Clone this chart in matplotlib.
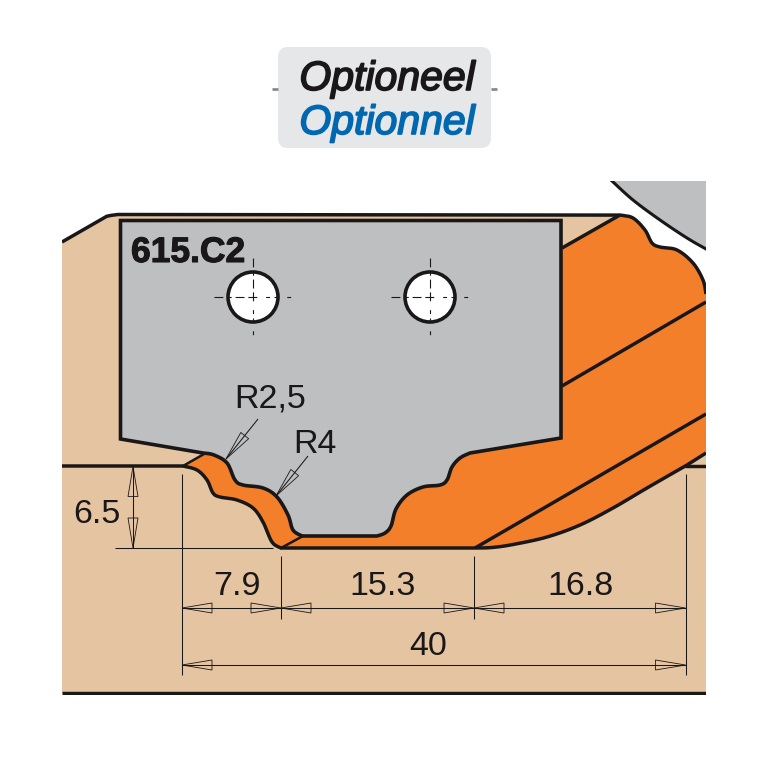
#!/usr/bin/env python
# coding: utf-8

# Profile drawing of knife set 615.C2, everything in reference pixel coordinates

import numpy as np
import matplotlib
matplotlib.use('Agg')
import matplotlib.pyplot as plt
from matplotlib.patches import Polygon, Circle, FancyBboxPatch, Rectangle
import matplotlib.patheffects as pe

# Text
part_label = '615.C2'
badge_labels = ['Optioneel', 'Optionnel']
radius_labels = ['R2,5', 'R4']
width_labels = ['7.9', '15.3', '16.8']
depth_label = '6.5'
total_label = '40'

# Dimension positions along the drawing
width_stops = [182, 281, 474, 685.5]
width_row_y = 608
total_row_y = 665
depth_top, depth_bottom = 466.5, 548
depth_x = 133

# Colours
wood = '#E5C4A1'
orange = '#F47F2A'
steel = '#BEBFC1'
ink = '#1A1718'
blue = '#0067B1'
badge = '#E6E7E8'

# Outlines, (x, y) in pixels
cutter_right_profile = [(470, 453), (460, 458), (452, 467), (447, 480), (440, 485), (423, 487),
                        (407, 495), (396, 509), (391, 526), (385, 533), (377, 536)]
cutter_left_profile = [(302, 536), (293, 530), (288, 515), (277, 497), (263, 488), (243, 485),
                       (235, 480), (227, 463), (214, 455), (203, 453)]
body_left_profile = [(183, 466), (197, 470), (207, 480), (213, 493), (220, 497), (237, 500),
                     (253, 508), (263, 522), (272, 542), (281, 548)]
body_right_curve = [(475, 548), (492, 547.5), (513, 544.5), (547, 537), (580, 525), (613, 508),
                    (647, 488), (687, 465)]
body_top_curve = [(620, 215), (633, 218), (645, 230), (652, 243), (660, 247), (677, 250),
                  (693, 263), (703, 280), (706, 294)]
disc_curve = [(612, 181), (633, 200), (660, 220), (687, 238), (706, 249)]
chamfer = [(62, 242), (102, 219), (108, 216), (118, 214.5)]
hole_x = [253, 430]
hole_y = 297


def curve(pts, n=14):
    # Catmull-Rom through the outline points, only to round the profile off
    p = np.array([pts[0]] + list(pts) + [pts[-1]], dtype=float)
    out = []
    for i in range(1, len(p) - 2):
        for t in np.linspace(0, 1, n, endpoint=False):
            out.append(0.5 * (2 * p[i] + (p[i + 1] - p[i - 1]) * t
                              + (2 * p[i - 1] - 5 * p[i] + 4 * p[i + 1] - p[i + 2]) * t**2
                              + (3 * p[i] - p[i - 1] - 3 * p[i + 1] + p[i + 2]) * t**3))
    out.append(p[-1])
    return np.array(out)


def arrow(ax, tip, toward, length=30, half=5):
    tip = np.array(tip, dtype=float)
    d = np.array(toward, dtype=float) - tip
    d = d / np.hypot(*d)
    n = np.array([-d[1], d[0]])
    base = tip + d * length
    ax.add_patch(Polygon([tip, base + n * half, base - n * half], closed=True, fill=False,
                         ec=ink, lw=0.6, zorder=6))


def thin(ax, xs, ys):
    ax.plot(xs, ys, color=ink, lw=0.75, zorder=6, solid_capstyle='butt')


fig = plt.figure(figsize=(7.68, 7.68), dpi=100)
ax = fig.add_axes([0, 0, 1, 1])
ax.set_xlim(0, 768)
ax.set_ylim(768, 0)
ax.axis('off')

top_curve = curve(body_top_curve)
right_curve = curve(body_right_curve)
left_curve = curve(body_left_profile)
chamfer_line = curve(chamfer, 6)

# Wood block
wood_outline = np.vstack([chamfer_line, top_curve, [(706, 693), (62, 693)]])
ax.add_patch(Polygon(wood_outline, closed=True, fc=wood, ec='none', zorder=1))

# Orange cutter body, the steel knife covers the inner part
body_outline = np.vstack([[(562, 248)], top_curve, [(706, 453)], right_curve[::-1],
                          left_curve[::-1], [(203, 454)]])
ax.add_patch(Polygon(body_outline, closed=True, fc=orange, ec='none', zorder=2))

# Steel disc top right
disc_outline = np.vstack([curve(disc_curve), [(706, 181)]])
ax.add_patch(Polygon(disc_outline, closed=True, fc=steel, ec='none', zorder=2))
ax.plot(*curve(disc_curve).T, color=ink, lw=2.2, zorder=3)

# Steel knife
knife_outline = np.vstack([[(120.5, 220.5), (561, 220.5), (561, 438)], curve(cutter_right_profile),
                           curve(cutter_left_profile), [(120.5, 439)]])
ax.add_patch(Polygon(knife_outline, closed=True, fc=steel, ec=ink, lw=2.6, zorder=4,
                     joinstyle='miter'))

# Heavy outlines of the wood and body
heavy = dict(color=ink, lw=2.5, zorder=3, solid_capstyle='butt')
ax.plot(*np.vstack([chamfer_line, top_curve]).T, **heavy)
ax.plot(*np.vstack([right_curve, [(706, 453)]]).T, **heavy)
ax.plot(*np.vstack([[(62, 466), (183, 466)], left_curve, [(475, 548)]]).T, **heavy)
ax.plot([685, 706], [466, 466], **heavy)
ax.plot([62, 706], [693, 693], **heavy)
ax.plot([562, 620], [248, 215], **heavy)
ax.plot([562, 706], [386, 302], **heavy)
ax.plot([475, 706], [548, 414], **heavy)
ax.plot([183, 204], [466, 454], color=ink, lw=1.8, zorder=3)
ax.plot([281, 303], [548, 536], color=ink, lw=1.8, zorder=3)

# Mounting holes with dashed centre lines
for hx in hole_x:
    ax.add_patch(Circle((hx, hole_y), 25, fc='white', ec=ink, lw=2.6, zorder=5))
    ax.plot([hx - 39, hx + 39], [hole_y, hole_y], color=ink, lw=0.8, zorder=6,
            dashes=(8, 3.5, 4, 3.5, 8, 3.5, 8))
    ax.plot([hx, hx], [hole_y - 39, hole_y + 39], color=ink, lw=0.8, zorder=6,
            dashes=(8, 3.5, 4, 3.5, 8, 3.5, 8))

# Everything so far stops at the frame of the drawing
frame = Rectangle((62, 181), 644, 514, transform=ax.transData)
for art in ax.patches + ax.lines:
    art.set_clip_path(frame)

# Extension lines
thin(ax, [182, 182], [474, 675])
thin(ax, [685.5, 685.5], [474, 675])
thin(ax, [281, 281], [556, 619])
thin(ax, [474, 474], [556, 619])
thin(ax, [115, 273], [548, 548])

# Width dimensions
thin(ax, [width_stops[0], width_stops[-1]], [width_row_y, width_row_y])
for left, right in zip(width_stops[:-1], width_stops[1:]):
    arrow(ax, (left, width_row_y), (right, width_row_y))
    arrow(ax, (right, width_row_y), (left, width_row_y))
thin(ax, [width_stops[0], width_stops[-1]], [total_row_y, total_row_y])
arrow(ax, (width_stops[0], total_row_y), (width_stops[-1], total_row_y))
arrow(ax, (width_stops[-1], total_row_y), (width_stops[0], total_row_y))

# Depth dimension
thin(ax, [depth_x, depth_x], [depth_top, depth_bottom])
arrow(ax, (depth_x, depth_top), (depth_x, depth_bottom))
arrow(ax, (depth_x, depth_bottom), (depth_x, depth_top))

# Radius leaders
thin(ax, [226, 258], [459, 419])
arrow(ax, (226, 459), (258, 419))
thin(ax, [276, 308], [496, 456])
arrow(ax, (276, 496), (308, 456))

# Dimension text
dim_font = dict(family='Liberation Sans', fontsize=24.5, color=ink,
                ha='center', va='baseline', zorder=7)
for label, cx in zip(width_labels, [237, 383, 580]):
    ax.text(cx, 595, label, **dim_font)
ax.text(428, 655, total_label, **dim_font)
ax.text(97, 523, depth_label, **dim_font)
ax.text(270, 408, radius_labels[0], **dim_font)
ax.text(315, 453, radius_labels[1], **dim_font)

# Part number
ax.text(131, 262, part_label, family='Liberation Sans', fontweight='bold', fontsize=25.5,
        color=ink, ha='left', va='baseline', zorder=7,
        path_effects=[pe.withStroke(linewidth=0.8, foreground=ink)])

# Badge on top
ax.add_patch(FancyBboxPatch((278, 47), 213, 101, boxstyle='round,pad=0,rounding_size=10',
                            fc=badge, ec='none', zorder=1))
ax.plot([272, 278], [89, 89], color='#8A8A8A', lw=2, solid_capstyle='butt')
ax.plot([491, 497], [89, 89], color='#8A8A8A', lw=2, solid_capstyle='butt')
for label, col, base in zip(badge_labels, [ink, blue], [90, 134]):
    ax.text(387, base, label, family='Liberation Sans', style='italic', fontsize=29.5, color=col,
            ha='center', va='baseline', zorder=3,
            path_effects=[pe.withStroke(linewidth=1.2, foreground=col)])

fig.savefig('out.png', dpi=100, facecolor='white')
